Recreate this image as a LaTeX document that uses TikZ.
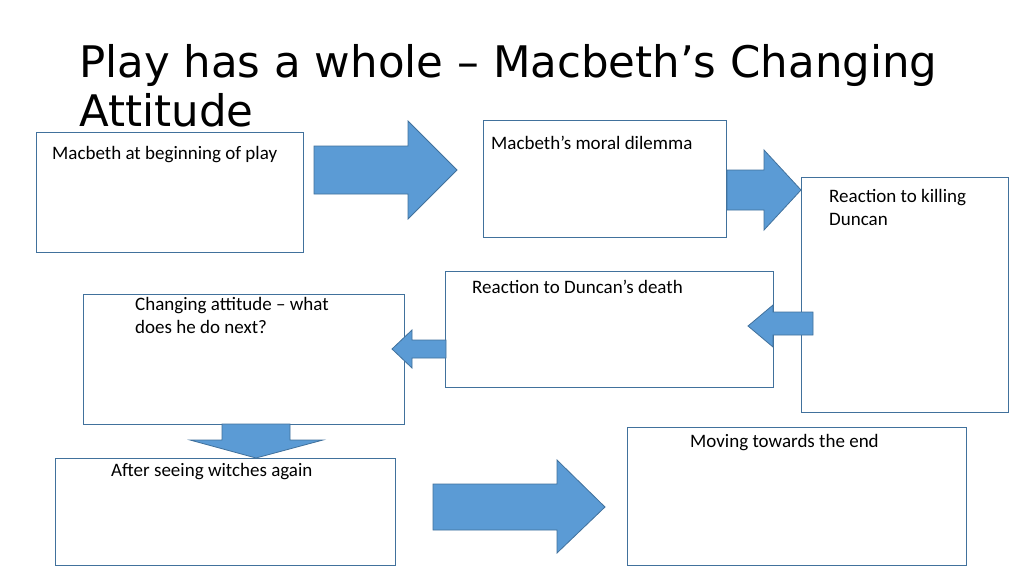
\documentclass[tikz,border=0pt]{standalone}
\usepackage{fontspec}
\setmainfont{Carlito}
\newfontfamily\titlefont{DejaVu Sans}
\begin{document}
\begin{tikzpicture}[x=1pt,y=-1pt,
  box/.style={draw={rgb,255:red,65;green,113;blue,156}, line width=0.9pt},
  arr/.style={fill={rgb,255:red,91;green,155;blue,213}, draw={rgb,255:red,65;green,113;blue,156}, line width=0.8pt},
  lbl/.style={anchor=north west, inner sep=0pt, font=\fontsize{19pt}{23pt}\selectfont, align=left}]
\useasboundingbox[fill=white] (0,0) rectangle (1024,575);
\node[anchor=base west, inner sep=0pt, font=\titlefont\fontsize{43.5pt}{50pt}\selectfont] (t1) at (79,78) {Play has a whole – Macbeth’s Changing};
\node[anchor=base west, inner sep=0pt, font=\titlefont\fontsize{43.5pt}{50pt}\selectfont] (t2) at (79,126) {Attitude};
% boxes
\draw[box] (36,132) rectangle (303,252);
\draw[box] (483,120) rectangle (726,237);
\draw[box] (801,177) rectangle (1008,412);
\draw[box] (445,271) rectangle (773,387);
\draw[box] (83,294) rectangle (404,424);
\draw[box] (55,458) rectangle (395,565);
\draw[box] (627,427) rectangle (966,565);
\node[lbl] (l1) at (52,146) {Macbeth at beginning of play};
\node[lbl] (l2) at (491,136) {Macbeth’s moral dilemma};
\node[lbl] (l3) at (829,189) {Reaction to killing\\Duncan};
\node[lbl] (l4) at (472,280) {Reaction to Duncan’s death};
\node[lbl] (l5) at (135,297) {Changing attitude – what\\does he do next?};
\node[lbl] (l6) at (111,463) {After seeing witches again};
\node[lbl] (l7) at (690,434) {Moving towards the end};
% arrows
\draw[arr] (314,146) -- (408,146) -- (408,121) -- (457,170) -- (408,219) -- (408,194) -- (314,194) -- cycle;
\draw[arr] (727,170) -- (764,170) -- (764,150) -- (801,190) -- (764,230) -- (764,210) -- (727,210) -- cycle;
\draw[arr] (813,312) -- (773,312) -- (773,305) -- (748,326) -- (773,347) -- (773,335) -- (813,335) -- cycle;
\draw[arr] (446,340) -- (412,340) -- (412,330) -- (392,349) -- (412,368) -- (412,358) -- (446,358) -- cycle;
\draw[arr] (222,424) -- (290,424) -- (290,440) -- (323,440) -- (256,458) -- (190,440) -- (222,440) -- cycle;
\draw[arr] (433,484) -- (557,484) -- (557,460) -- (605,507) -- (557,553) -- (557,530) -- (433,530) -- cycle;
\end{tikzpicture}
\end{document}
